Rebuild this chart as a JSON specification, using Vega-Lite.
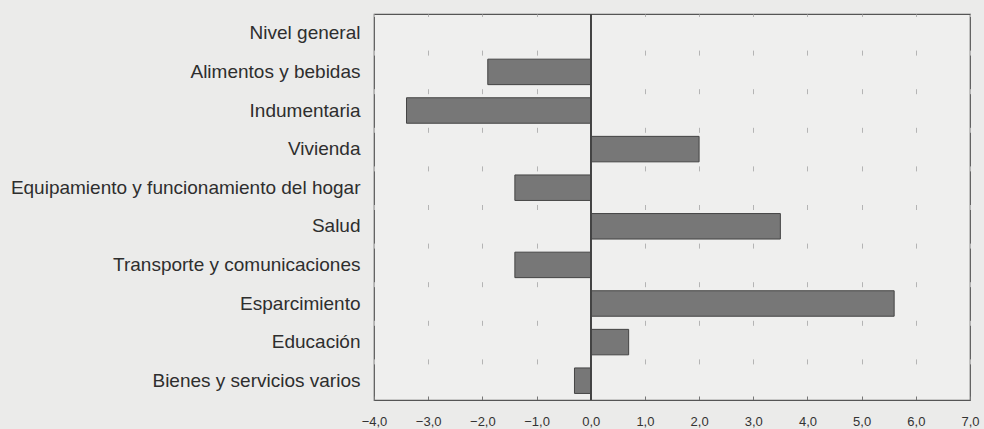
{
  "$schema": "https://vega.github.io/schema/vega-lite/v6.json",
  "autosize": {"type": "none"},
  "width": 596,
  "height": 386,
  "padding": {"left": 374, "top": 14, "right": 14, "bottom": 29},
  "background": "#ebebea",
  "config": {
    "view": {"stroke": "#555555", "strokeWidth": 1.2, "fill": "#efefee"},
    "font": "Liberation Sans"
  },
  "data": {
    "values": [
      {"rubro": "Nivel general", "valor": 0.0},
      {"rubro": "Alimentos y bebidas", "valor": -1.9},
      {"rubro": "Indumentaria", "valor": -3.4},
      {"rubro": "Vivienda", "valor": 2.0},
      {"rubro": "Equipamiento y funcionamiento del hogar", "valor": -1.4},
      {"rubro": "Salud", "valor": 3.5},
      {"rubro": "Transporte y comunicaciones", "valor": -1.4},
      {"rubro": "Esparcimiento", "valor": 5.6},
      {"rubro": "Educación", "valor": 0.7},
      {"rubro": "Bienes y servicios varios", "valor": -0.3}
    ]
  },
  "layer": [
    {
      "mark": {"type": "bar", "color": "#777777", "stroke": "#444444", "strokeWidth": 1},
      "encoding": {
        "y": {
          "field": "rubro",
          "type": "nominal",
          "sort": null,
          "scale": {"paddingInner": 0.34, "paddingOuter": 0.17},
          "axis": {
            "title": null,
            "domain": false,
            "ticks": false,
            "labelFontSize": 19,
            "labelColor": "#2e2e2e",
            "labelPadding": 14,
            "labelLimit": 400
          }
        },
        "x": {
          "field": "valor",
          "type": "quantitative",
          "scale": {"domain": [-4, 7], "nice": false, "zero": false},
          "axis": {
            "title": null,
            "values": [-4, -3, -2, -1, 0, 1, 2, 3, 4, 5, 6, 7],
            "labelExpr": "replace(format(datum.value, '.1f'), '.', ',')",
            "labelFontSize": 13,
            "labelColor": "#333333",
            "labelPadding": 19,
            "domainColor": "#555555",
            "tickColor": "#777777",
            "tickSize": -4,
            "grid": true,
            "gridColor": "#b4b4b4",
            "gridWidth": 1,
            "gridDash": [5, 33.6],
            "gridDashOffset": 2.5,
            "labelFlush": false
          }
        }
      }
    },
    {
      "mark": {"type": "rule", "color": "#444444", "strokeWidth": 1.2},
      "encoding": {
        "x": {"datum": 0, "type": "quantitative"}
      }
    }
  ]
}
